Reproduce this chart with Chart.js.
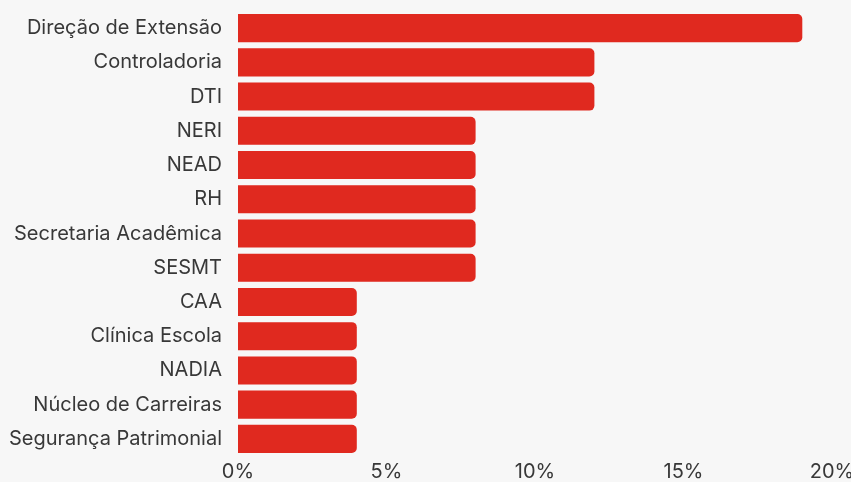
<!DOCTYPE html>
<html>
<head>
<meta charset="utf-8">
<script src="https://cdn.jsdelivr.net/npm/chart.js@4/dist/chart.umd.min.js"></script>
<style>
html,body{margin:0;padding:0;background:#f7f7f7;overflow:hidden;}
#wrap{width:851px;height:484px;position:relative;}
</style>
</head>
<body>
<div id="wrap"><canvas id="c"></canvas></div>
<script>
const categories = ["Direção de Extensão","Controladoria","DTI","NERI","NEAD","RH","Secretaria Acadêmica","SESMT","CAA","Clínica Escola","NADIA","Núcleo de Carreiras","Segurança Patrimonial"];
const values = [19,12,12,8,8,8,8,8,4,4,4,4,4];
const xTicks = [0,5,10,15,20];

Chart.defaults.font.family = "Inter, 'Noto Sans', sans-serif";
new Chart(document.getElementById('c'), {
  type: 'bar',
  data: {
    labels: categories,
    datasets: [{
      data: values,
      backgroundColor: '#e0291f',
      borderWidth: 0,
      borderRadius: {topLeft:0,bottomLeft:0,topRight:5,bottomRight:5},
      borderSkipped: false,
      categoryPercentage: 0.82,
      barPercentage: 1.0
    }]
  },
  options: {
    indexAxis: 'y',
    responsive: true,
    maintainAspectRatio: false,
    animation: false,
    layout: {padding: {top: 11, left: 0, right: 19, bottom: 0}},
    plugins: {legend: {display: false}, tooltip: {enabled: false}},
    scales: {
      x: {
        min: 0, max: 20,
        afterBuildTicks: (s) => { s.ticks = xTicks.map(v => ({value: v})); },
        afterFit: (s) => { s.height = 28; s.paddingLeft = 0; s.paddingRight = 0; },
        grid: {display: false, drawTicks: false},
        border: {display: false},
        ticks: {color: '#383838', font: {size: 20}, padding: 4, callback: (v) => v + '%', maxRotation: 0}
      },
      y: {
        grid: {display: false, drawTicks: false},
        border: {display: false},
        afterFit: (s) => { s.width = 238; s.paddingTop = 0; s.paddingBottom = 0; },
        ticks: {color: '#383838', font: {size: 20}, padding: 16}
      }
    }
  }
});
</script>
</body>
</html>
